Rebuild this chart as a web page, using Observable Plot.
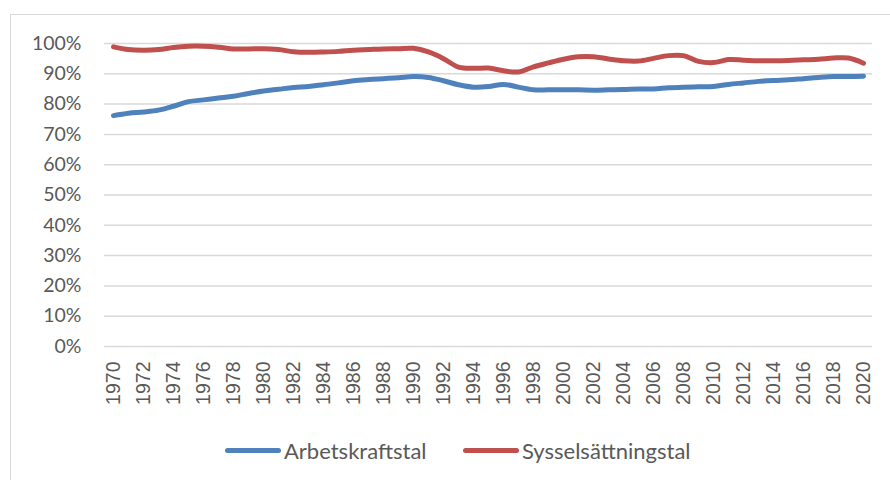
<!DOCTYPE html>
<html>
<head>
<meta charset="utf-8">
<script src="https://cdn.jsdelivr.net/npm/d3@7"></script>
<script src="https://cdn.jsdelivr.net/npm/@observablehq/plot@0.6"></script>
<style>
  html, body { margin: 0; padding: 0; background: #fff; }
  body { width: 890px; height: 480px; position: relative; overflow: hidden; }
  #frame { position: absolute; left: 10px; top: 14px; width: 900px; height: 500px;
           border-left: 1.5px solid #d9d9d9; border-top: 1.5px solid #d9d9d9; box-sizing: border-box; }
  #chart { position: absolute; left: 0; top: 0; }
  #legend { position: absolute; left: 0; top: 420px; width: 890px; height: 60px; }
  .item { position: absolute; top: 17px; display: flex; align-items: center;
          font-family: Lato, "Open Sans", sans-serif; font-size: 22px; color: #595959; }
  .sw { width: 56px; height: 5px; border-radius: 3px; margin-right: 3px; }
</style>
</head>
<body>
<div id="frame"></div>
<div id="chart"></div>
<div id="legend"></div>
<script>
const years = d3.range(1970, 2021);
const seriesNames = ["Arbetskraftstal", "Sysselsättningstal"];
const seriesColors = ["#4f81bd", "#c0504d"];
const arbetskraftstal = [
  76.2, 77.0, 77.4, 78.0, 79.3, 80.8, 81.4, 82.0, 82.6, 83.5,
  84.3, 84.9, 85.5, 85.8, 86.4, 87.0, 87.7, 88.1, 88.4, 88.7,
  89.1, 88.8, 87.7, 86.4, 85.6, 85.8, 86.5, 85.6, 84.7, 84.7,
  84.7, 84.7, 84.6, 84.7, 84.8, 85.0, 85.0, 85.4, 85.6, 85.7,
  85.8, 86.5, 87.0, 87.5, 87.8, 88.0, 88.4, 88.8, 89.1, 89.1,
  89.2
];
const sysselsattningstal = [
  98.9, 98.0, 97.8, 98.0, 98.7, 99.1, 99.1, 98.8, 98.2, 98.2,
  98.3, 98.0, 97.3, 97.1, 97.2, 97.4, 97.8, 98.0, 98.2, 98.3,
  98.4, 97.2, 95.0, 92.2, 91.8, 91.9, 91.0, 90.6, 92.3, 93.6,
  94.8, 95.6, 95.6, 94.9, 94.3, 94.2, 95.1, 96.0, 96.0, 94.1,
  93.7, 94.7, 94.5, 94.3, 94.3, 94.4, 94.6, 94.8, 95.2, 95.2,
  93.5
];
const yTicks = d3.range(0, 11).map(d => d / 10);
const xTicks = years.filter(y => y % 2 === 0);

const data = [
  ...years.map((y, i) => ({year: y, value: arbetskraftstal[i] / 100, series: seriesNames[0]})),
  ...years.map((y, i) => ({year: y, value: sysselsattningstal[i] / 100, series: seriesNames[1]}))
];

const chart = Plot.plot({
  width: 890,
  height: 420,
  marginTop: 43,
  marginBottom: 74,
  marginLeft: 104,
  marginRight: 18,
  style: {background: "transparent", overflow: "visible"},
  x: {type: "point", domain: years, padding: 0.5},
  y: {domain: [0, 1]},
  color: {domain: seriesNames, range: seriesColors},
  marks: [
    Plot.ruleY(yTicks, {stroke: "#d9d9d9", strokeWidth: 1.5}),
    Plot.axisY(yTicks, {
      tickSize: 0, tickPadding: 23, tickFormat: d3.format(".0%"),
      fontSize: 19.5, fontFamily: "Lato, 'Open Sans', sans-serif", fill: "#595959", label: null
    }),
    Plot.axisX(xTicks, {
      tickSize: 0, tickPadding: 15, tickRotate: -90, tickFormat: d => String(d),
      fontSize: 19.5, fontFamily: "'Liberation Sans', Arial, sans-serif", fill: "#595959", label: null
    }),
    Plot.line(data, {
      x: "year", y: "value", z: "series", stroke: "series",
      strokeWidth: 5, curve: "catmull-rom", strokeLinecap: "round", strokeLinejoin: "round"
    })
  ]
});
document.getElementById("chart").appendChild(chart);

const legend = document.getElementById("legend");
const positions = [225, 463];
seriesNames.forEach((name, i) => {
  const item = document.createElement("div");
  item.className = "item";
  item.style.left = positions[i] + "px";
  const sw = document.createElement("span");
  sw.className = "sw";
  sw.style.background = seriesColors[i];
  const tx = document.createElement("span");
  tx.textContent = name;
  item.appendChild(sw);
  item.appendChild(tx);
  legend.appendChild(item);
});
</script>
</body>
</html>
